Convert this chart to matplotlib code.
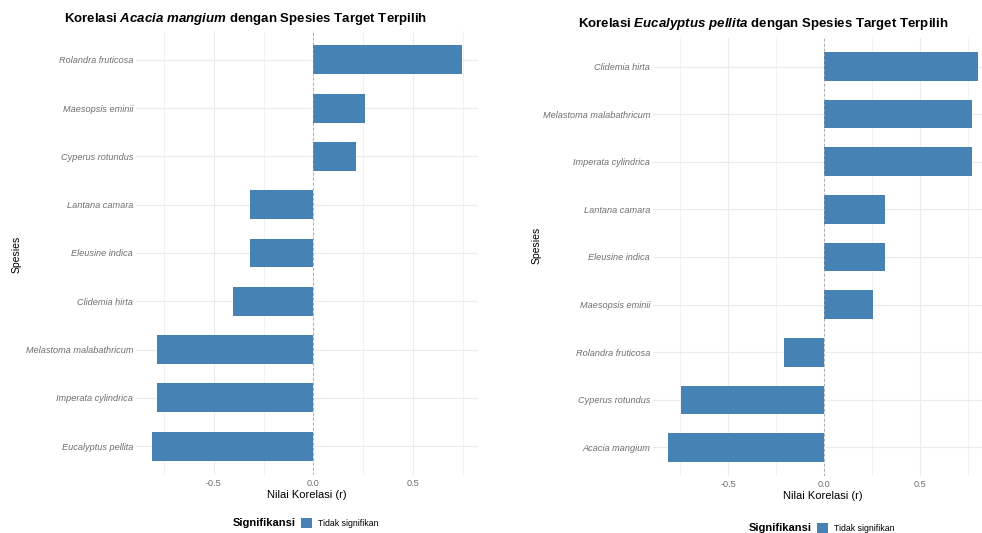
import numpy as np
import matplotlib
matplotlib.use("Agg")
import matplotlib.pyplot as plt
from matplotlib.patches import Patch

plt.rcParams['font.family'] = ['Liberation Sans', 'DejaVu Sans']
plt.rcParams['mathtext.fontset'] = 'custom'
plt.rcParams['mathtext.it'] = 'Liberation Sans:italic:bold'
plt.rcParams['mathtext.rm'] = 'Liberation Sans:bold'

# Korelasi Acacia mangium (bawah -> atas)
acacia_species = ['Eucalyptus pellita', 'Imperata cylindrica', 'Melastoma malabathricum',
                  'Clidemia hirta', 'Eleusine indica', 'Lantana camara',
                  'Cyperus rotundus', 'Maesopsis eminii', 'Rolandra fruticosa']
acacia_r = [-0.81, -0.785, -0.785, -0.405, -0.32, -0.32, 0.215, 0.26, 0.745]

# Korelasi Eucalyptus pellita (bawah -> atas)
eucalyptus_species = ['Acacia mangium', 'Cyperus rotundus', 'Rolandra fruticosa',
                      'Maesopsis eminii', 'Eleusine indica', 'Lantana camara',
                      'Imperata cylindrica', 'Melastoma malabathricum', 'Clidemia hirta']
eucalyptus_r = [-0.81, -0.745, -0.21, 0.255, 0.32, 0.32, 0.77, 0.77, 0.80]

xticks = [-0.5, 0.0, 0.5]
xtick_labels = ['-0.5', '0.0', '0.5']

BAR = '#4682B4'
GRID = '#ebebeb'
TXT = '#6e6e6e'

W, H = 982, 533
fig = plt.figure(figsize=(W / 100, H / 100), dpi=100)


def px_axes(x0, x1, y0, y1):
    return fig.add_axes([x0 / W, 1 - y1 / H, (x1 - x0) / W, (y1 - y0) / H])


def draw_panel(ax, species, vals, legend_x, legend_y):
    y = np.arange(len(species))
    lo, hi = min(vals), max(vals)
    pad = (hi - lo) * 0.05
    ax.set_xlim(lo - pad, hi + pad)
    ax.set_ylim(-0.6, len(species) - 0.4)
    ax.set_axisbelow(True)
    for v in [-0.75, -0.25, 0.25, 0.75]:
        ax.axvline(v, color=GRID, lw=0.5, zorder=0)
    for v in xticks:
        ax.axvline(v, color=GRID, lw=0.8, zorder=0)
    for yy in y:
        ax.axhline(yy, color=GRID, lw=0.8, zorder=0)
    ax.barh(y, vals, height=0.6, color=BAR, zorder=2)
    ax.axvline(0, color='#a0a0a0', lw=0.6, ls=(0, (3, 3)), zorder=3)
    ax.set_yticks(y)
    ax.set_yticklabels(species, style='italic', fontsize=6.6, color=TXT)
    ax.set_xticks(xticks)
    ax.set_xticklabels(xtick_labels, fontsize=6.6, color=TXT)
    ax.tick_params(length=0, pad=2)
    ax.tick_params(axis='x', pad=3)
    for s in ax.spines.values():
        s.set_visible(False)
    ax.set_xlabel('Nilai Korelasi (r)', fontsize=8, labelpad=1)
    handles = [Patch(visible=False), Patch(facecolor=BAR)]
    leg = ax.legend(handles, ['Signifikansi', 'Tidak signifikan'], ncol=2,
                    loc='center', bbox_to_anchor=(legend_x, legend_y), frameon=False,
                    fontsize=6.3, handlelength=1.3, handleheight=1.3,
                    handletextpad=0.7, columnspacing=0.6)
    t = leg.get_texts()[0]
    t.set_fontweight('bold')
    t.set_fontsize(8)


ax1 = px_axes(136, 478, 31, 475)
draw_panel(ax1, acacia_species, acacia_r, 0.47, -0.108)
fig.text(17 / W, 1 - 254 / H, 'Spesies', rotation=90, fontsize=7.5,
         ha='center', va='center')
fig.text(245 / W, 1 - 19 / H,
         r'Korelasi $\mathit{Acacia\ mangium}$ dengan Spesies Target Terpilih',
         fontsize=9.5, fontweight='bold', ha='center', va='center')

ax2 = px_axes(653, 993, 38, 476)
draw_panel(ax2, eucalyptus_species, eucalyptus_r, 0.47, -0.118)
fig.text(537 / W, 1 - 245 / H, 'Spesies', rotation=90, fontsize=7.5,
         ha='center', va='center')
fig.text(763 / W, 1 - 24 / H,
         r'Korelasi $\mathit{Eucalyptus\ pellita}$ dengan Spesies Target Terpilih',
         fontsize=9.5, fontweight='bold', ha='center', va='center')

fig.savefig('out.png', dpi=100, facecolor='white')
